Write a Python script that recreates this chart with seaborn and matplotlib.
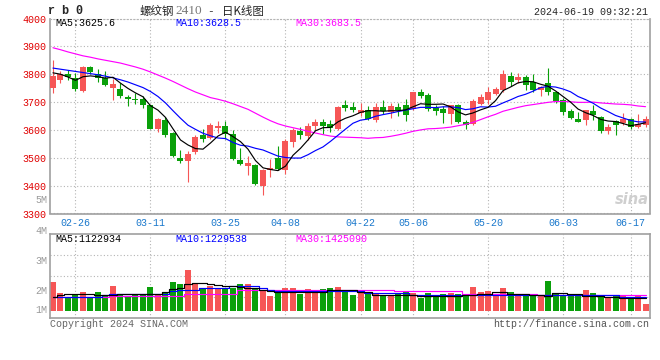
import matplotlib
matplotlib.use("Agg")
import numpy as np
import pandas as pd
import matplotlib.pyplot as plt
import seaborn as sns

# trading calendar 2024-02-21 .. 2024-06-19 (SHFE holidays removed)
holidays = pd.to_datetime(["2024-04-04", "2024-04-05", "2024-05-01",
                           "2024-05-02", "2024-05-03", "2024-06-10"])
dates = pd.bdate_range("2024-02-21", "2024-06-19")
dates = dates[~dates.isin(holidays)]
tick_labels = ["02-26", "03-11", "03-25", "04-08", "04-22",
               "05-06", "05-20", "06-03", "06-17"]

open_ = [3751, 3779, 3801, 3788, 3739, 3826, 3800, 3788, 3751, 3746,
         3718, 3711, 3711, 3688, 3605, 3636, 3589, 3500, 3487, 3519,
         3582, 3570, 3608, 3614, 3586, 3493, 3469, 3475, 3398, 3457,
         3500, 3457, 3558, 3596, 3580, 3614, 3630, 3621, 3604, 3689,
         3682, 3661, 3671, 3637, 3682, 3665, 3682, 3689, 3675, 3736,
         3725, 3677, 3675, 3658, 3688, 3629, 3621, 3693, 3707, 3730,
         3743, 3793, 3780, 3789, 3773, 3743, 3768, 3736, 3707, 3668,
         3639, 3636, 3668, 3645, 3596, 3632, 3625, 3639, 3610, 3618]
high = [3850, 3812, 3814, 3805, 3829, 3830, 3817, 3811, 3783, 3769,
        3725, 3731, 3721, 3690, 3644, 3645, 3591, 3529, 3526, 3580,
        3602, 3626, 3632, 3632, 3598, 3536, 3507, 3477, 3459, 3496,
        3543, 3567, 3606, 3611, 3624, 3638, 3640, 3636, 3686, 3707,
        3700, 3698, 3685, 3698, 3707, 3695, 3696, 3711, 3737, 3746,
        3731, 3689, 3686, 3690, 3693, 3636, 3711, 3729, 3754, 3754,
        3814, 3807, 3804, 3796, 3800, 3757, 3821, 3737, 3714, 3675,
        3664, 3671, 3689, 3649, 3621, 3636, 3661, 3642, 3657, 3650]
low = [3733, 3769, 3781, 3740, 3736, 3802, 3771, 3757, 3707, 3715,
       3687, 3694, 3680, 3603, 3593, 3576, 3503, 3483, 3412, 3513,
       3558, 3567, 3588, 3567, 3493, 3475, 3439, 3404, 3368, 3430,
       3457, 3443, 3540, 3569, 3565, 3598, 3586, 3594, 3600, 3669,
       3663, 3650, 3636, 3629, 3657, 3644, 3651, 3633, 3671, 3715,
       3669, 3652, 3626, 3623, 3625, 3605, 3617, 3689, 3693, 3725,
       3737, 3757, 3768, 3743, 3736, 3721, 3727, 3696, 3654, 3639,
       3629, 3619, 3636, 3589, 3587, 3583, 3618, 3605, 3607, 3611]
close = [3793, 3800, 3789, 3746, 3826, 3807, 3788, 3762, 3764, 3721,
         3712, 3708, 3689, 3605, 3639, 3582, 3505, 3490, 3514, 3575,
         3569, 3618, 3614, 3585, 3496, 3479, 3482, 3407, 3457, 3464,
         3461, 3562, 3599, 3582, 3614, 3630, 3614, 3606, 3682, 3679,
         3673, 3673, 3639, 3682, 3667, 3686, 3671, 3655, 3737, 3723,
         3675, 3669, 3662, 3688, 3630, 3619, 3704, 3718, 3736, 3746,
         3801, 3771, 3789, 3762, 3743, 3754, 3736, 3704, 3664, 3643,
         3629, 3670, 3654, 3596, 3610, 3618, 3639, 3612, 3621, 3639]

ma5 = [3805, 3800, 3790, 3778, 3791, 3794, 3791, 3786, 3789, 3768,
       3749, 3733, 3719, 3687, 3671, 3645, 3604, 3564, 3546, 3533,
       3531, 3553, 3578, 3592, 3576, 3558, 3531, 3490, 3464, 3458,
       3454, 3470, 3509, 3534, 3564, 3597, 3608, 3609, 3629, 3642,
       3651, 3663, 3669, 3669, 3667, 3669, 3669, 3672, 3683, 3694,
       3692, 3692, 3693, 3683, 3665, 3654, 3661, 3672, 3681, 3705,
       3741, 3754, 3769, 3774, 3773, 3764, 3757, 3740, 3720, 3700,
       3675, 3662, 3652, 3638, 3632, 3630, 3623, 3615, 3620, 3625.6]
ma10 = [3822, 3818, 3814, 3810, 3806, 3802, 3798, 3793, 3787, 3780,
        3772, 3762, 3752, 3738, 3720, 3697, 3669, 3642, 3617, 3602,
        3588, 3579, 3571, 3569, 3555, 3545, 3542, 3534, 3528, 3517,
        3506, 3501, 3499, 3499, 3511, 3526, 3539, 3559, 3581, 3603,
        3624, 3635, 3639, 3649, 3655, 3660, 3666, 3671, 3676, 3681,
        3681, 3680, 3683, 3683, 3680, 3673, 3676, 3683, 3682, 3685,
        3697, 3708, 3720, 3728, 3739, 3752, 3756, 3754, 3747, 3737,
        3720, 3709, 3696, 3679, 3666, 3652, 3643, 3634, 3629, 3628.5]
ma30 = [3895, 3888, 3880, 3873, 3866, 3861, 3855, 3850, 3845, 3840,
        3833, 3826, 3818, 3808, 3797, 3786, 3774, 3761, 3748, 3736,
        3726, 3716, 3710, 3703, 3694, 3684, 3674, 3660, 3646, 3633,
        3622, 3614, 3608, 3602, 3595, 3589, 3583, 3578, 3575, 3574,
        3573, 3572, 3570, 3572, 3573, 3577, 3582, 3588, 3595, 3600,
        3604, 3605, 3607, 3610, 3615, 3620, 3627, 3637, 3647, 3656,
        3667, 3674, 3681, 3687, 3691, 3695, 3699, 3702, 3702, 3701,
        3699, 3699, 3700, 3697, 3695, 3693, 3692, 3690, 3686, 3683.5]

# volume, in millions of lots
volume = [2.52, 1.54, 1.22, 1.45, 1.62, 1.22, 1.62, 1.28, 2.14, 1.45,
          1.30, 1.42, 1.45, 2.06, 1.45, 1.62, 2.49, 2.32, 3.54, 2.40,
          2.03, 2.14, 1.88, 2.03, 1.97, 2.32, 2.32, 2.03, 1.77, 1.30,
          1.77, 1.97, 1.97, 1.51, 1.88, 1.77, 1.91, 2.00, 2.09, 1.80,
          1.36, 1.54, 1.54, 1.48, 1.42, 1.42, 1.48, 1.77, 1.57, 1.13,
          1.54, 1.30, 1.51, 1.57, 1.51, 1.42, 2.09, 1.65, 1.74, 1.42,
          2.00, 1.62, 1.30, 1.42, 1.42, 1.33, 2.61, 1.45, 1.42, 1.45,
          1.30, 1.83, 1.54, 1.30, 1.13, 1.33, 1.30, 1.13, 1.42, 0.58]
vol_ma5 = [1.22, 1.36, 1.48, 1.48, 1.48, 1.48, 1.42, 1.42, 1.42, 1.51,
           1.51, 1.51, 1.51, 1.51, 1.51, 1.65, 1.94, 2.03, 2.38, 2.43,
           2.46, 2.38, 2.29, 2.14, 2.14, 2.09, 2.03, 2.03, 1.86, 1.74,
           1.65, 1.65, 1.65, 1.65, 1.65, 1.65, 1.65, 1.80, 1.80, 1.80,
           1.80, 1.62, 1.62, 1.42, 1.42, 1.42, 1.42, 1.42, 1.42, 1.30,
           1.30, 1.30, 1.30, 1.30, 1.30, 1.36, 1.42, 1.51, 1.51, 1.62,
           1.62, 1.45, 1.45, 1.45, 1.39, 1.39, 1.30, 1.59, 1.59, 1.51,
           1.51, 1.30, 1.30, 1.30, 1.25, 1.25, 1.13, 1.13, 1.13, 1.13]
vol_ma10 = [1.22, 1.22, 1.22, 1.22, 1.22, 1.22, 1.22, 1.39, 1.51, 1.51,
            1.51, 1.51, 1.51, 1.51, 1.51, 1.51, 1.74, 1.86, 1.86, 1.86,
            2.03, 2.03, 2.03, 2.03, 2.17, 2.17, 2.17, 2.17, 2.03, 1.86,
            1.74, 1.74, 1.74, 1.74, 1.74, 1.74, 1.74, 1.71, 1.71, 1.71,
            1.71, 1.71, 1.57, 1.57, 1.57, 1.57, 1.57, 1.57, 1.39, 1.39,
            1.39, 1.39, 1.39, 1.39, 1.39, 1.39, 1.39, 1.39, 1.39, 1.39,
            1.42, 1.42, 1.42, 1.42, 1.42, 1.42, 1.42, 1.36, 1.36, 1.36,
            1.36, 1.36, 1.36, 1.36, 1.36, 1.36, 1.22, 1.22, 1.22, 1.22]
vol_ma30 = [1.22, 1.22, 1.22, 1.22, 1.22, 1.22, 1.22, 1.22, 1.33, 1.33,
            1.33, 1.33, 1.33, 1.33, 1.33, 1.33, 1.33, 1.33, 1.51, 1.51,
            1.51, 1.51, 1.51, 1.51, 1.51, 1.80, 1.80, 1.80, 1.80, 1.80,
            1.80, 1.80, 1.80, 1.80, 1.80, 1.80, 1.80, 1.86, 1.86, 1.86,
            1.86, 1.86, 1.86, 1.86, 1.86, 1.86, 1.71, 1.71, 1.71, 1.71,
            1.71, 1.71, 1.71, 1.71, 1.71, 1.51, 1.51, 1.51, 1.51, 1.51,
            1.51, 1.51, 1.51, 1.51, 1.51, 1.36, 1.36, 1.36, 1.36, 1.36,
            1.36, 1.36, 1.36, 1.36, 1.36, 1.36, 1.36, 1.36, 1.36, 1.36]

UP, DOWN = "#f65656", "#0aa00a"
GRID = "#b4b4b4"
FRAME = "#a0a0a0"
W, H = 660, 360

sns.set_style("white")
plt.rcParams["font.family"] = ["Liberation Mono", "DejaVu Sans"]

df = pd.DataFrame({"date": dates, "open": open_, "high": high, "low": low,
                   "close": close, "ma5": ma5, "ma10": ma10, "ma30": ma30,
                   "vol": volume, "vma5": vol_ma5, "vma10": vol_ma10,
                   "vma30": vol_ma30})
df["i"] = np.arange(len(df))
df["up"] = df["close"] >= df["open"]
colors = np.where(df["up"], UP, DOWN)
tick_pos = [df.index[df["date"].dt.strftime("%m-%d") == t][0] for t in tick_labels]


def rect(l, t, r, b):
    return [l / W, 1 - b / H, (r - l) / W, (b - t) / H]


def ftext(x, y, s, **kw):
    fig.text(x / W, 1 - y / H, s, **kw)


fig = plt.figure(figsize=(6.6, 3.6), dpi=100)
ax = fig.add_axes(rect(50.5, 18.5, 649.5, 213.5))
axv = fig.add_axes(rect(50.5, 233.5, 649.5, 317.5))
grid_ls = (0, (1, 2))

# --- price panel ---
body_lo = df[["open", "close"]].min(axis=1)
body_h = (df["close"] - df["open"]).abs().clip(lower=3.6)
ax.vlines(df["i"], df["low"], df["high"], colors=colors, lw=0.8, zorder=2)
ax.bar(df["i"], body_h, bottom=body_lo, width=0.8, color=colors, linewidth=0, zorder=3)
for col, c in [("ma30", "#ff00ff"), ("ma10", "#0000ff"), ("ma5", "black")]:
    sns.lineplot(data=df, x="i", y=col, color=c, lw=0.85, ax=ax, estimator=None, zorder=4)

ax.set_xlim(-0.33, 79.53)
ax.set_ylim(3300, 4000)
ax.set_yticks(np.arange(3300, 4001, 100))
ax.tick_params(axis="y", length=0, pad=3, labelsize=7.2, labelcolor="#e00000")
ax.set_xticks(tick_pos, tick_labels)
ax.tick_params(axis="x", length=0, pad=3, labelsize=7.2, labelcolor="#1a78cc")
ax.grid(True, ls=grid_ls, color=GRID, lw=0.8)
ax.set_axisbelow(True)
ax.set_xlabel("")
ax.set_ylabel("")
for s in ["left", "right", "bottom"]:
    ax.spines[s].set_color(FRAME)
    ax.spines[s].set_linewidth(1.2)
ax.spines["top"].set_color(GRID)
ax.spines["top"].set_linestyle(grid_ls)
ax.spines["top"].set_linewidth(0.8)

# --- volume panel ---
axv.bar(df["i"], df["vol"], width=0.8, color=colors, linewidth=0, zorder=2)
for col, c in [("vma30", "#ff00ff"), ("vma10", "#0000ff"), ("vma5", "black")]:
    sns.lineplot(data=df, x="i", y=col, color=c, lw=0.85, ax=axv, estimator=None,
                 drawstyle="steps-mid", zorder=3)
axv.set_xlim(ax.get_xlim())
vlo, vhi = -0.565, 6.74
axv.set_ylim(vlo, vhi)
axv.set_yticks([vlo + f * (vhi - vlo) for f in (0.25, 0.5, 0.75)])
axv.set_yticklabels([])
axv.set_xticks(tick_pos)
axv.set_xticklabels([])
axv.tick_params(length=0)
axv.grid(True, ls=grid_ls, color=GRID, lw=0.8)
axv.set_axisbelow(True)
axv.set_xlabel("")
axv.set_ylabel("")
for s in axv.spines.values():
    s.set_color(FRAME)
    s.set_linewidth(1.2)

# --- texts ---
mono = dict(fontsize=7.2, va="center")
ftext(55, 23, "MA5:3625.6", color="black", **mono)
ftext(175, 23, "MA10:3628.5", color="#0000ff", **mono)
ftext(295, 23, "MA30:3683.5", color="#ff00ff", **mono)
ftext(55, 239, "MA5:1122934", color="black", **mono)
ftext(175, 239, "MA10:1229538", color="#0000ff", **mono)
ftext(295, 239, "MA30:1425090", color="#ff00ff", **mono)

for lab, y in [("5M", 200), ("4M", 231), ("3M", 261), ("2M", 291), ("1M", 310)]:
    ftext(47, y, lab, color="#9a9a9a", ha="right", **mono)

ftext(48, 11, "r b 0", fontsize=8.5, fontweight="bold", va="center")
cjk = ["Noto Sans CJK SC", "DejaVu Sans"]
ftext(140, 11, "螺纹钢", family=cjk, fontsize=8.3, va="center")
ftext(175, 11, "2410", family=["Liberation Serif"], fontsize=9.5, color="#777777", va="center")
ftext(207, 11, "-", fontsize=8, va="center")
ftext(222, 11, "日K线图", family=cjk, fontsize=8.3, va="center")
ftext(648, 12, "2024-06-19 09:32:21", ha="right", **mono)

ftext(50, 324, "Copyright 2024 SINA.COM", color="#666666", **mono)
ftext(649, 324, "http://finance.sina.com.cn", color="#555555", ha="right", **mono)
ftext(649, 199, "sina", family=["DejaVu Sans"], fontsize=10.5, fontweight="bold",
      style="italic", color="#cfcfcf", ha="right", va="center")

fig.savefig("out.png", dpi=100)
